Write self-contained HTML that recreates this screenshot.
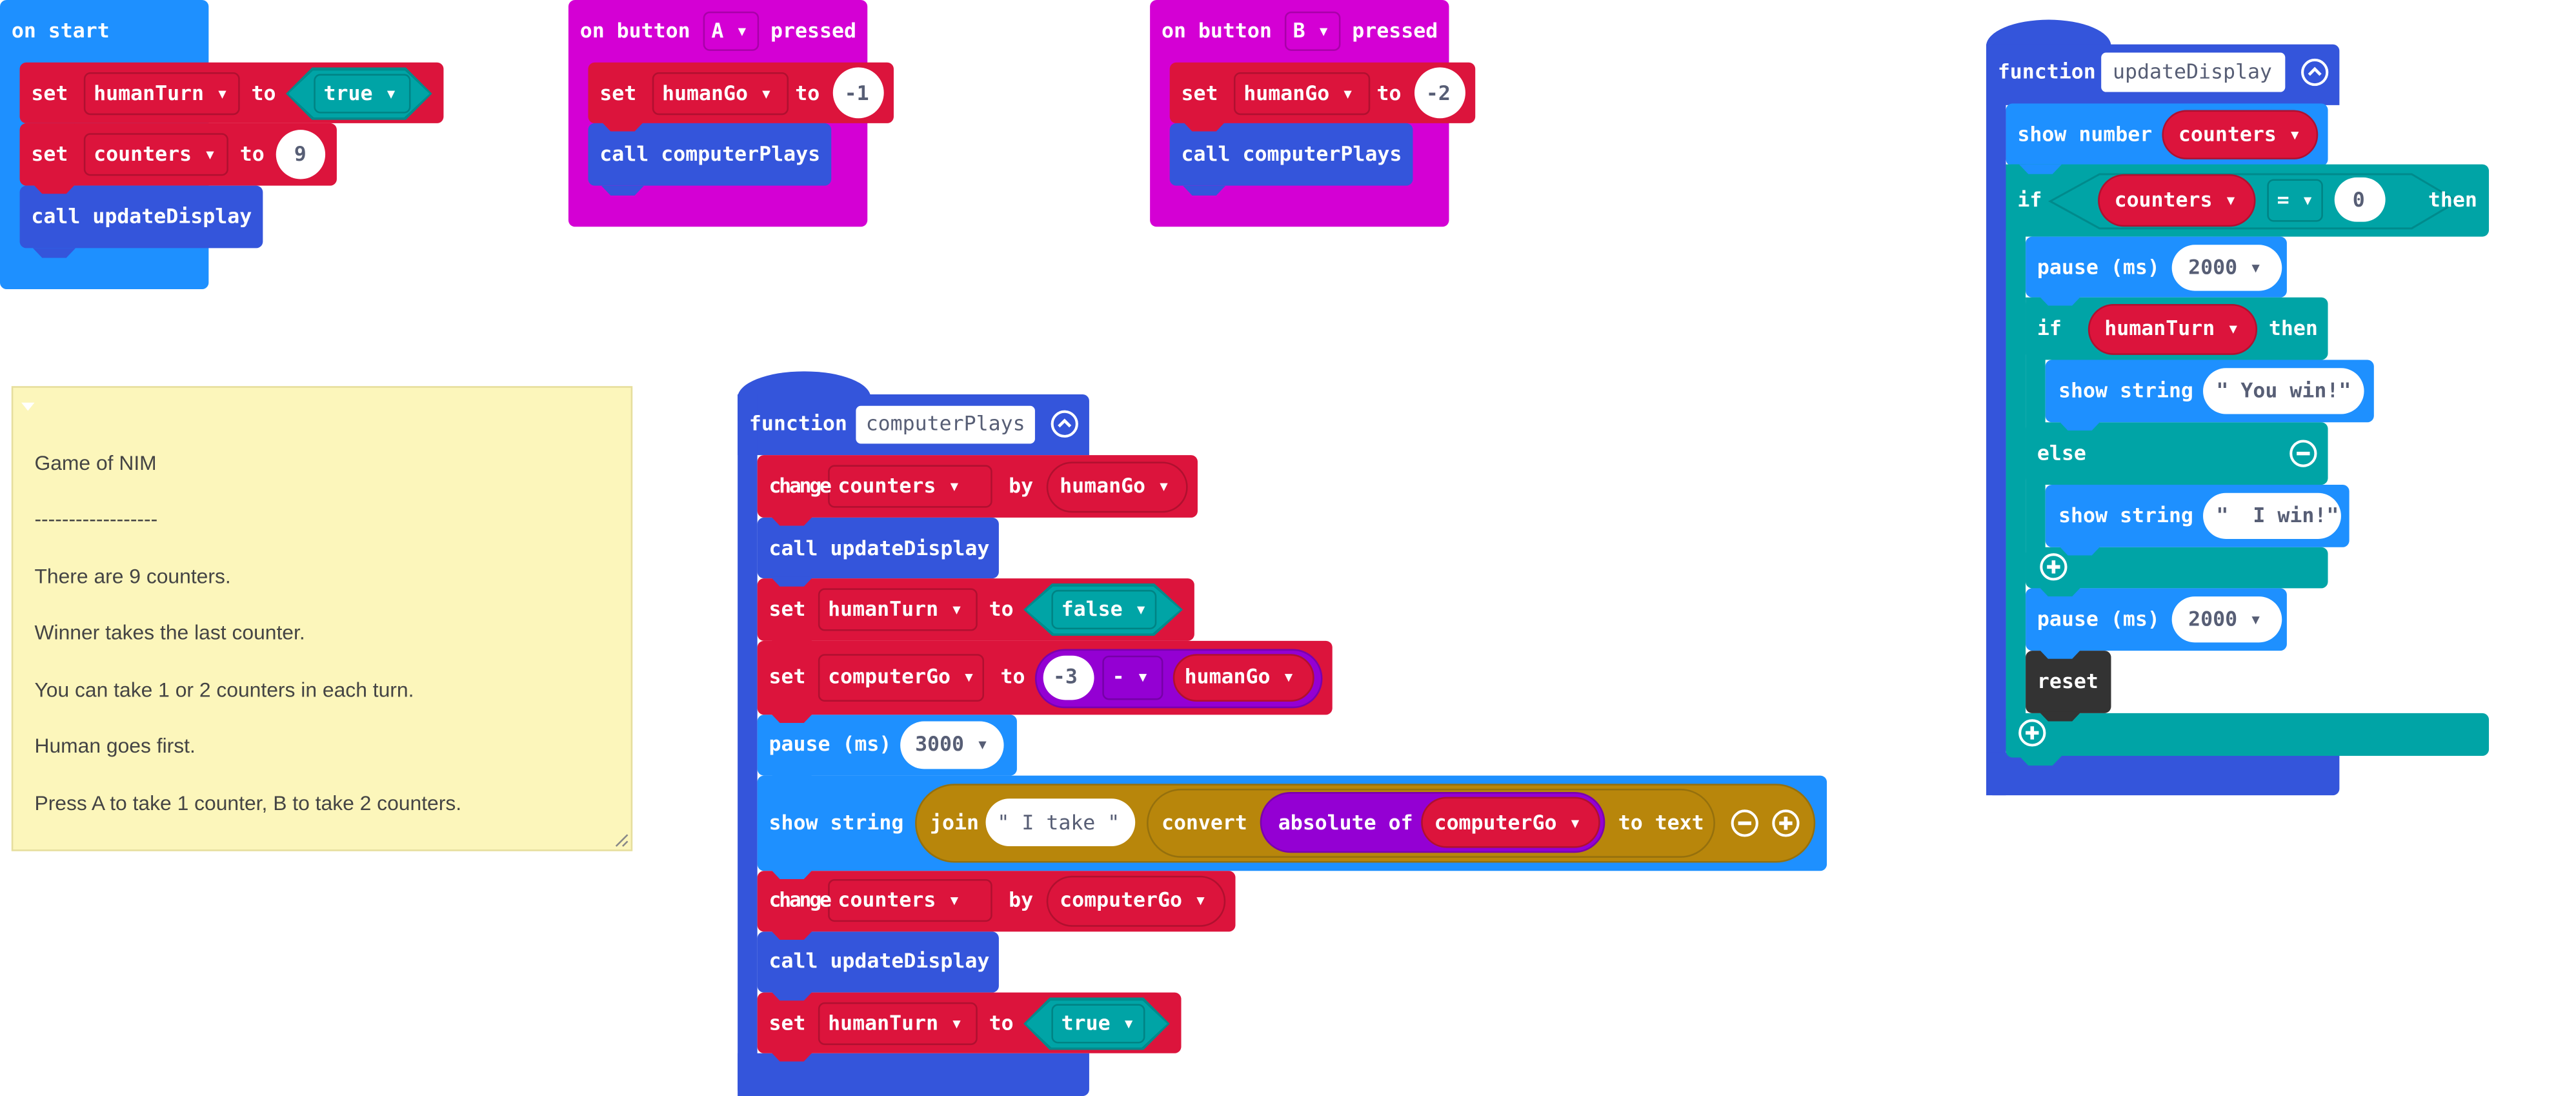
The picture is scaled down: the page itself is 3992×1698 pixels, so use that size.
<!DOCTYPE html>
<html><head><meta charset="utf-8"><style>
html,body{margin:0;padding:0;background:#fff;overflow:hidden}
#wrap{position:relative;width:1568px;height:667px;transform:scale(2.5459,2.5457);transform-origin:0 0}
.b{position:absolute;box-sizing:border-box;border-radius:4px}
.t{position:absolute;color:#fff;font:bold 12.4px "DejaVu Sans Mono",monospace;transform:translateY(-50%);white-space:pre;line-height:1;z-index:3}
.dk{color:#575e75}
.on{background:#1e90ff}.red{background:#dc143c}.tl{background:#00a4a6}.fn{background:#3455db}.pu{background:#d400d4}.gd{background:#b8860b}.mp{background:#9400d3}.rs{background:#333}
.dd{position:absolute;box-sizing:border-box;border-radius:4px;border:1px solid rgba(0,0,0,.2)}
.ov{position:absolute;box-sizing:border-box;border-radius:999px;background:#fff}
.ovr{position:absolute;box-sizing:border-box;border-radius:999px;background:#dc143c;border:1px solid #b0102f}
.tab{position:absolute;width:26px;height:6px;clip-path:polygon(0 0,100% 0,78% 100%,22% 100%);z-index:2}
.hex{position:absolute;clip-path:polygon(0 50%,18% 0,82% 0,100% 50%,82% 100%,18% 100%);background:#008a8c}
.hex i{position:absolute;left:1.5px;top:1.5px;right:1.5px;bottom:1.5px;clip-path:polygon(0 50%,18% 0,82% 0,100% 50%,82% 100%,18% 100%);background:#00a4a6}
.ic{position:absolute;width:18px;height:18px;transform:translate(-50%,-50%);z-index:3}
.cm{position:absolute;font:12.5px "Liberation Sans",sans-serif;color:#444;transform:translateY(-50%);white-space:pre}
.nr{letter-spacing:-1.3px}
</style></head><body><div id="wrap">

<!-- on start -->
<div class="b on" style="left:0;top:0;width:127px;height:176px"></div>
<span class="t" style="left:7px;top:19px">on start</span>
<div class="b red" style="left:12px;top:38px;width:258px;height:37px"></div>
<span class="t" style="left:19px;top:57px">set</span>
<div class="dd" style="left:51px;top:44px;width:95px;height:26px"></div>
<span class="t" style="left:57px;top:57px">humanTurn ▾</span>
<span class="t" style="left:153px;top:57px">to</span>
<div class="hex" style="left:174px;top:41px;width:89px;height:32px"><i></i></div>
<div class="dd" style="left:191px;top:45px;width:59px;height:24px"></div>
<span class="t" style="left:197px;top:57px">true ▾</span>
<div class="tab red" style="left:20px;top:75px"></div>
<div class="b red" style="left:12px;top:75px;width:193px;height:38px"></div>
<span class="t" style="left:19px;top:94px">set</span>
<div class="dd" style="left:51px;top:81px;width:88px;height:26px"></div>
<span class="t" style="left:57px;top:94px">counters ▾</span>
<span class="t" style="left:146px;top:94px">to</span>
<div class="ov" style="left:168px;top:79px;width:30px;height:30px"></div>
<span class="t dk" style="left:179px;top:94px">9</span>
<div class="b fn" style="left:12px;top:113px;width:148px;height:38px"></div>
<span class="t" style="left:19px;top:132px">call updateDisplay</span>
<div class="tab red" style="left:20px;top:112px"></div>
<div class="tab fn" style="left:20px;top:151px"></div>

<!-- button A -->
<div class="b pu" style="left:346px;top:0;width:182px;height:138px"></div>
<span class="t" style="left:353px;top:19px">on button</span>
<div class="dd" style="left:428px;top:7px;width:34px;height:24px"></div>
<span class="t" style="left:433px;top:19px">A ▾</span>
<span class="t" style="left:469px;top:19px">pressed</span>
<div class="b red" style="left:358px;top:38px;width:186px;height:37px"></div>
<span class="t" style="left:365px;top:57px">set</span>
<div class="dd" style="left:397px;top:44px;width:83px;height:26px"></div>
<span class="t" style="left:403px;top:57px">humanGo ▾</span>
<span class="t" style="left:484px;top:57px">to</span>
<div class="ov" style="left:507px;top:41px;width:31px;height:31px"></div>
<span class="t dk" style="left:514px;top:57px">-1</span>
<div class="b fn" style="left:358px;top:75px;width:148px;height:38px"></div>
<span class="t" style="left:365px;top:94px">call computerPlays</span>
<div class="tab red" style="left:366px;top:74px"></div>
<div class="tab fn" style="left:366px;top:113px"></div>

<!-- button B -->
<div class="b pu" style="left:700px;top:0;width:182px;height:138px"></div>
<span class="t" style="left:707px;top:19px">on button</span>
<div class="dd" style="left:782px;top:7px;width:34px;height:24px"></div>
<span class="t" style="left:787px;top:19px">B ▾</span>
<span class="t" style="left:823px;top:19px">pressed</span>
<div class="b red" style="left:712px;top:38px;width:186px;height:37px"></div>
<span class="t" style="left:719px;top:57px">set</span>
<div class="dd" style="left:751px;top:44px;width:83px;height:26px"></div>
<span class="t" style="left:757px;top:57px">humanGo ▾</span>
<span class="t" style="left:838px;top:57px">to</span>
<div class="ov" style="left:861px;top:41px;width:31px;height:31px"></div>
<span class="t dk" style="left:868px;top:57px">-2</span>
<div class="b fn" style="left:712px;top:75px;width:148px;height:38px"></div>
<span class="t" style="left:719px;top:94px">call computerPlays</span>
<div class="tab red" style="left:720px;top:74px"></div>
<div class="tab fn" style="left:720px;top:113px"></div>

<!-- comment -->
<div style="position:absolute;left:7px;top:235px;width:378px;height:283px;background:#fcf6bb;border:1px solid #e6de9e;box-sizing:border-box"></div>
<div style="position:absolute;left:13px;top:245px;width:0;height:0;border-left:4px solid transparent;border-right:4px solid transparent;border-top:5px solid #fff"></div>
<span class="cm" style="left:21px;top:282px">Game of NIM</span>
<span class="cm" style="left:21px;top:316px">------------------</span>
<span class="cm" style="left:21px;top:351px">There are 9 counters.</span>
<span class="cm" style="left:21px;top:385px">Winner takes the last counter.</span>
<span class="cm" style="left:21px;top:420px">You can take 1 or 2 counters in each turn.</span>
<span class="cm" style="left:21px;top:454px">Human goes first.</span>
<span class="cm" style="left:21px;top:489px">Press A to take 1 counter, B to take 2 counters.</span>
<svg style="position:absolute;left:373px;top:506px" width="10" height="10"><path d="M2 9L9 2M6 9L9 6" stroke="#888" stroke-width="1"/></svg>

<!-- function computerPlays -->
<div class="b fn" style="left:449px;top:226px;width:81px;height:30px;border-radius:40px 40px 0 0/16px 16px 0 0"></div>
<div class="b fn" style="left:449px;top:240px;width:214px;height:37px;border-radius:0 4px 0 0"></div>
<div class="b fn" style="left:449px;top:240px;width:12px;height:427px;border-radius:0"></div>
<div class="b fn" style="left:449px;top:641px;width:214px;height:26px;border-radius:0 0 4px 4px"></div>
<span class="t" style="left:456px;top:258px">function</span>
<div class="b" style="left:521px;top:247px;width:109px;height:23px;background:#fff;border-radius:3px"></div>
<span class="t dk" style="left:527px;top:258px;font-weight:normal">computerPlays</span>
<svg class="ic" style="left:648px;top:258px" viewBox="0 0 18 18"><circle cx="9" cy="9" r="7.5" fill="none" stroke="#fff" stroke-width="1.6"/><path d="M5.5 10.5L9 7l3.5 3.5" fill="none" stroke="#fff" stroke-width="1.8"/></svg>

<div class="b red" style="left:461px;top:277px;width:268px;height:38px"></div>
<span class="t nr" style="left:468px;top:296px">change</span>
<div class="dd" style="left:504px;top:283px;width:100px;height:26px"></div>
<span class="t" style="left:510px;top:296px">counters ▾</span>
<span class="t" style="left:614px;top:296px">by</span>
<div class="ovr" style="left:637px;top:281px;width:86px;height:31px"></div>
<span class="t" style="left:645px;top:296px">humanGo ▾</span>

<div class="b fn" style="left:461px;top:315px;width:147px;height:37px"></div>
<span class="t" style="left:468px;top:334px">call updateDisplay</span>
<div class="tab red" style="left:469px;top:314px"></div>

<div class="b red" style="left:461px;top:352px;width:266px;height:38px"></div>
<span class="t" style="left:468px;top:371px">set</span>
<div class="dd" style="left:498px;top:358px;width:97px;height:26px"></div>
<span class="t" style="left:504px;top:371px">humanTurn ▾</span>
<span class="t" style="left:602px;top:371px">to</span>
<div class="hex" style="left:623px;top:355px;width:97px;height:32px"><i></i></div>
<div class="dd" style="left:640px;top:359px;width:64px;height:24px"></div>
<span class="t" style="left:646px;top:371px">false ▾</span>
<div class="tab fn" style="left:469px;top:351px"></div>

<div class="b red" style="left:461px;top:390px;width:350px;height:45px"></div>
<span class="t" style="left:468px;top:412px">set</span>
<div class="dd" style="left:498px;top:398px;width:101px;height:29px"></div>
<span class="t" style="left:504px;top:412px">computerGo ▾</span>
<span class="t" style="left:609px;top:412px">to</span>
<div class="ov" style="left:630px;top:395px;width:175px;height:36px;background:#9400d3;border:1px solid #7a00ad"></div>
<div class="ov" style="left:635px;top:399px;width:31px;height:27px"></div>
<span class="t dk" style="left:641px;top:412px">-3</span>
<div class="dd" style="left:671px;top:399px;width:37px;height:27px"></div>
<span class="t" style="left:677px;top:412px">- ▾</span>
<div class="ovr" style="left:714px;top:398px;width:86px;height:29px"></div>
<span class="t" style="left:721px;top:412px">humanGo ▾</span>
<div class="tab red" style="left:469px;top:389px"></div>

<div class="b on" style="left:461px;top:435px;width:158px;height:37px"></div>
<span class="t" style="left:468px;top:453px">pause (ms)</span>
<div class="ov" style="left:548px;top:439px;width:63px;height:29px"></div>
<span class="t dk" style="left:557px;top:453px">3000 ▾</span>
<div class="tab red" style="left:469px;top:434px"></div>

<div class="b on" style="left:461px;top:472px;width:651px;height:58px"></div>
<span class="t" style="left:468px;top:501px">show string</span>
<div class="ov" style="left:557px;top:477px;width:548px;height:48px;background:#b8860b;border:1px solid #95700d"></div>
<span class="t" style="left:566px;top:501px">join</span>
<div class="ov" style="left:600px;top:486px;width:91px;height:29px"></div>
<span class="t dk" style="left:607px;top:501px;font-weight:normal">" I take "</span>
<div class="ov" style="left:698px;top:480px;width:346px;height:42px;background:#b8860b;border:1px solid #95700d"></div>
<span class="t" style="left:707px;top:501px">convert</span>
<div class="ov" style="left:767px;top:482px;width:210px;height:37px;background:#9400d3;border:1px solid #7a00ad"></div>
<span class="t" style="left:778px;top:501px">absolute of</span>
<div class="ovr" style="left:865px;top:485px;width:109px;height:31px"></div>
<span class="t" style="left:873px;top:501px">computerGo ▾</span>
<span class="t" style="left:985px;top:501px">to text</span>
<svg class="ic" style="left:1062px;top:501px" viewBox="0 0 18 18"><circle cx="9" cy="9" r="7.5" fill="none" stroke="#fff" stroke-width="1.6"/><path d="M5 9h8" stroke="#fff" stroke-width="2.2"/></svg>
<svg class="ic" style="left:1087px;top:501px" viewBox="0 0 18 18"><circle cx="9" cy="9" r="7.5" fill="none" stroke="#fff" stroke-width="1.6"/><path d="M5 9h8M9 5v8" stroke="#fff" stroke-width="2.2"/></svg>
<div class="tab on" style="left:469px;top:471px"></div>

<div class="b red" style="left:461px;top:530px;width:291px;height:37px"></div>
<span class="t nr" style="left:468px;top:548px">change</span>
<div class="dd" style="left:504px;top:535px;width:100px;height:26px"></div>
<span class="t" style="left:510px;top:548px">counters ▾</span>
<span class="t" style="left:614px;top:548px">by</span>
<div class="ovr" style="left:637px;top:533px;width:109px;height:31px"></div>
<span class="t" style="left:645px;top:548px">computerGo ▾</span>
<div class="tab on" style="left:469px;top:529px"></div>

<div class="b fn" style="left:461px;top:567px;width:147px;height:37px"></div>
<span class="t" style="left:468px;top:585px">call updateDisplay</span>
<div class="tab red" style="left:469px;top:566px"></div>

<div class="b red" style="left:461px;top:604px;width:258px;height:37px"></div>
<span class="t" style="left:468px;top:623px">set</span>
<div class="dd" style="left:498px;top:610px;width:97px;height:26px"></div>
<span class="t" style="left:504px;top:623px">humanTurn ▾</span>
<span class="t" style="left:602px;top:623px">to</span>
<div class="hex" style="left:623px;top:607px;width:89px;height:32px"><i></i></div>
<div class="dd" style="left:640px;top:611px;width:57px;height:24px"></div>
<span class="t" style="left:646px;top:623px">true ▾</span>
<div class="tab fn" style="left:469px;top:603px"></div>
<div class="tab red" style="left:469px;top:640px"></div>

<!-- function updateDisplay -->
<div class="b fn" style="left:1209px;top:12px;width:76px;height:30px;border-radius:38px 38px 0 0/16px 16px 0 0"></div>
<div class="b fn" style="left:1209px;top:27px;width:215px;height:37px;border-radius:0 4px 0 0"></div>
<div class="b fn" style="left:1209px;top:27px;width:12px;height:457px;border-radius:0"></div>
<div class="b fn" style="left:1209px;top:458px;width:215px;height:26px;border-radius:0 0 4px 4px"></div>
<span class="t" style="left:1216px;top:44px">function</span>
<div class="b" style="left:1279px;top:32px;width:112px;height:24px;background:#fff;border-radius:3px"></div>
<span class="t dk" style="left:1286px;top:44px;font-weight:normal">updateDisplay</span>
<svg class="ic" style="left:1409px;top:44px" viewBox="0 0 18 18"><circle cx="9" cy="9" r="7.5" fill="none" stroke="#fff" stroke-width="1.6"/><path d="M5.5 10.5L9 7l3.5 3.5" fill="none" stroke="#fff" stroke-width="1.8"/></svg>

<div class="b on" style="left:1221px;top:63px;width:196px;height:38px"></div>
<span class="t" style="left:1228px;top:82px">show number</span>
<div class="ovr" style="left:1316px;top:67px;width:95px;height:30px"></div>
<span class="t" style="left:1326px;top:82px">counters ▾</span>

<!-- outer if -->
<div class="b tl" style="left:1221px;top:100px;width:294px;height:44px"></div>
<div class="b tl" style="left:1221px;top:100px;width:12px;height:361px;border-radius:0 0 0 4px"></div>
<div class="b tl" style="left:1221px;top:434px;width:294px;height:26px"></div>
<div class="tab on" style="left:1229px;top:100px"></div>
<span class="t" style="left:1228px;top:122px">if</span>
<svg style="position:absolute;left:1245px;top:104px" width="254" height="37"><polygon points="3,18.5 33,2 223,2 251,18.5 223,35 33,35" fill="#00a4a6" stroke="#008a8c" stroke-width="1.2"/></svg>
<div class="ovr" style="left:1277px;top:106px;width:96px;height:32px"></div>
<span class="t" style="left:1287px;top:122px">counters ▾</span>
<div class="dd" style="left:1380px;top:109px;width:34px;height:26px"></div>
<span class="t" style="left:1386px;top:122px">= ▾</span>
<div class="ov" style="left:1421px;top:108px;width:31px;height:27px"></div>
<span class="t dk" style="left:1432px;top:122px">0</span>
<span class="t" style="left:1478px;top:122px">then</span>

<div class="b on" style="left:1233px;top:144px;width:159px;height:37px"></div>
<span class="t" style="left:1240px;top:163px">pause (ms)</span>
<div class="ov" style="left:1322px;top:149px;width:67px;height:28px"></div>
<span class="t dk" style="left:1332px;top:163px">2000 ▾</span>

<!-- inner if -->
<div class="b tl" style="left:1233px;top:181px;width:184px;height:38px"></div>
<div class="b tl" style="left:1233px;top:181px;width:12px;height:177px;border-radius:0 0 0 4px"></div>
<div class="b tl" style="left:1233px;top:257px;width:184px;height:38px"></div>
<div class="b tl" style="left:1233px;top:333px;width:184px;height:25px"></div>
<div class="tab on" style="left:1241px;top:180px"></div>
<span class="t" style="left:1240px;top:200px">if</span>
<div class="ovr" style="left:1271px;top:185px;width:103px;height:31px"></div>
<span class="t" style="left:1281px;top:200px">humanTurn ▾</span>
<span class="t" style="left:1381px;top:200px">then</span>

<div class="b on" style="left:1245px;top:219px;width:200px;height:38px"></div>
<span class="t" style="left:1253px;top:238px">show string</span>
<div class="ov" style="left:1341px;top:224px;width:98px;height:28px"></div>
<span class="t dk" style="left:1349px;top:238px">" You win!"</span>
<div class="tab on" style="left:1253px;top:256px"></div>
<span class="t" style="left:1240px;top:276px">else</span>
<svg class="ic" style="left:1402px;top:276px" viewBox="0 0 18 18"><circle cx="9" cy="9" r="7.5" fill="none" stroke="#fff" stroke-width="1.6"/><path d="M5 9h8" stroke="#fff" stroke-width="2.2"/></svg>

<div class="b on" style="left:1245px;top:295px;width:185px;height:38px"></div>
<span class="t" style="left:1253px;top:314px">show string</span>
<div class="ov" style="left:1341px;top:300px;width:84px;height:28px"></div>
<span class="t dk" style="left:1349px;top:314px">"  I win!"</span>
<div class="tab on" style="left:1253px;top:332px"></div>
<svg class="ic" style="left:1250px;top:345px" viewBox="0 0 18 18"><circle cx="9" cy="9" r="7.5" fill="none" stroke="#fff" stroke-width="1.6"/><path d="M5 9h8M9 5v8" stroke="#fff" stroke-width="2.2"/></svg>

<div class="b on" style="left:1233px;top:358px;width:159px;height:38px"></div>
<span class="t" style="left:1240px;top:377px">pause (ms)</span>
<div class="ov" style="left:1322px;top:363px;width:67px;height:28px"></div>
<span class="t dk" style="left:1332px;top:377px">2000 ▾</span>
<div class="tab tl" style="left:1241px;top:357px"></div>

<div class="b rs" style="left:1233px;top:396px;width:52px;height:38px"></div>
<span class="t" style="left:1240px;top:415px">reset</span>
<div class="tab on" style="left:1241px;top:395px"></div>
<div class="tab rs" style="left:1241px;top:433px"></div>
<svg class="ic" style="left:1237px;top:446px" viewBox="0 0 18 18"><circle cx="9" cy="9" r="7.5" fill="none" stroke="#fff" stroke-width="1.6"/><path d="M5 9h8M9 5v8" stroke="#fff" stroke-width="2.2"/></svg>
<div class="tab tl" style="left:1229px;top:460px"></div>

</div></body></html>
